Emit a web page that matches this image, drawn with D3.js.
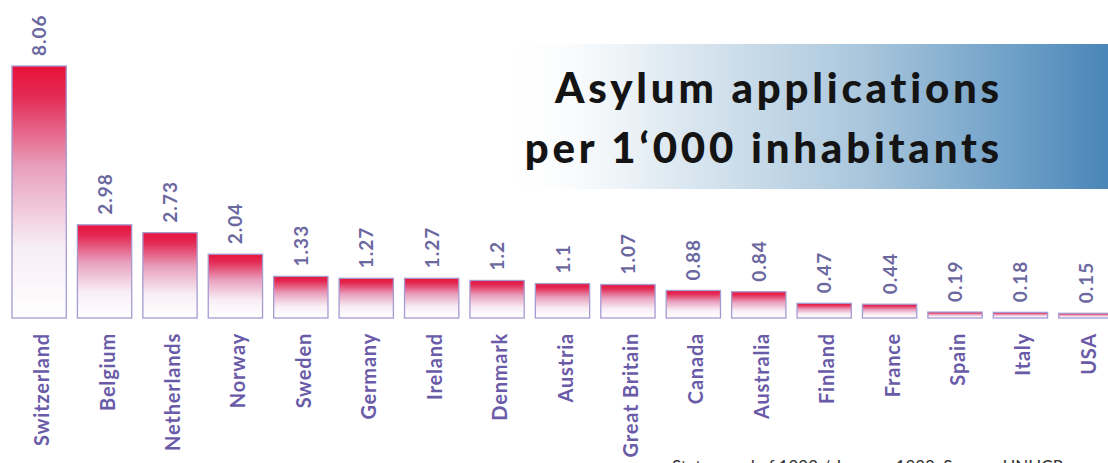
<!DOCTYPE html>
<html>
<head>
<meta charset="utf-8">
<script src="https://cdn.jsdelivr.net/npm/d3@7"></script>
<style>
  body { margin: 0; background: #fff; }
  svg { display: block; }
</style>
</head>
<body>
<div id="chart"></div>
<script>
const countries = ["Switzerland", "Belgium", "Netherlands", "Norway", "Sweden", "Germany", "Ireland",
  "Denmark", "Austria", "Great Britain", "Canada", "Australia", "Finland", "France", "Spain", "Italy", "USA"];
const values = [8.06, 2.98, 2.73, 2.04, 1.33, 1.27, 1.27, 1.2, 1.1, 1.07, 0.88, 0.84, 0.47, 0.44, 0.19, 0.18, 0.15];
const titleLines = ["Asylum applications", "per 1‘000 inhabitants"];
const sourceNote = "Status: end of 1999 / January 1998, Source: UNHCR";

const width = 1108;
const height = 463;
const baseline = 318;
const font = "Lato, 'Open Sans', sans-serif";

const svg = d3.select("#chart").append("svg")
  .attr("width", width)
  .attr("height", height);

const defs = svg.append("defs");

const barGrad = defs.append("linearGradient")
  .attr("id", "barGrad")
  .attr("x1", 0).attr("y1", 0).attr("x2", 0).attr("y2", 1);
[[0, "#e8123a"], [0.12, "#e42a55"], [0.4, "#e8a0bd"], [0.72, "#f8eef5"], [1, "#ffffff"]]
  .forEach(([o, c]) => barGrad.append("stop").attr("offset", o).attr("stop-color", c));

const titleGrad = defs.append("linearGradient")
  .attr("id", "titleGrad")
  .attr("x1", 0).attr("y1", 0).attr("x2", 1).attr("y2", 0);
[[0, "#ffffff", 0], [0.25, "#e4edf4", 1], [0.6, "#a9c6dc", 1], [0.85, "#6d9fc7", 1], [1, "#4a86b8", 1]]
  .forEach(([o, c, a]) => titleGrad.append("stop").attr("offset", o).attr("stop-color", c).attr("stop-opacity", a));

// title band
svg.append("rect")
  .attr("x", 500).attr("y", 44)
  .attr("width", width - 500).attr("height", 145)
  .attr("fill", "url(#titleGrad)");

svg.append("g")
  .selectAll("text")
  .data(titleLines)
  .join("text")
  .attr("x", 1003)
  .attr("y", (d, i) => 103 + i * 60)
  .attr("text-anchor", "end")
  .attr("font-family", font)
  .attr("font-weight", 900)
  .attr("font-size", 42)
  .attr("letter-spacing", 3.8)
  .attr("fill", "#141414")
  .text(d => d);

const x = d3.scaleBand()
  .domain(countries)
  .range([12, 1113])
  .paddingInner(0.17)
  .paddingOuter(0);

const y = d3.scaleLinear()
  .domain([0, 8.06])
  .range([baseline, 66]);

const bars = svg.append("g")
  .selectAll("g")
  .data(countries.map((c, i) => ({ c, v: values[i] })))
  .join("g");

bars.append("rect")
  .attr("x", d => x(d.c))
  .attr("y", d => y(d.v))
  .attr("width", x.bandwidth())
  .attr("height", d => y(0) - y(d.v))
  .attr("fill", "url(#barGrad)")
  .attr("stroke", "#a59bd3")
  .attr("stroke-width", 1.3);

bars.append("text")
  .attr("transform", d => `translate(${x(d.c) + x.bandwidth() / 2 + 7},${y(d.v) - 10}) rotate(-90)`)
  .attr("font-family", font)
  .attr("font-weight", 700)
  .attr("font-size", 19)
  .attr("letter-spacing", 1)
  .attr("fill", "#6b68a0")
  .text(d => String(d.v));

bars.append("text")
  .attr("transform", d => `translate(${x(d.c) + x.bandwidth() / 2 + 10},${baseline + 15}) rotate(-90)`)
  .attr("text-anchor", "end")
  .attr("font-family", font)
  .attr("font-weight", 700)
  .attr("font-size", 20)
  .attr("letter-spacing", 0.8)
  .attr("fill", "#6a5ba8")
  .text(d => d.c);

svg.append("text")
  .attr("x", 672)
  .attr("y", 473)
  .attr("font-family", font)
  .attr("font-size", 17)
  .attr("fill", "#333")
  .text(sourceNote);
</script>
</body>
</html>
